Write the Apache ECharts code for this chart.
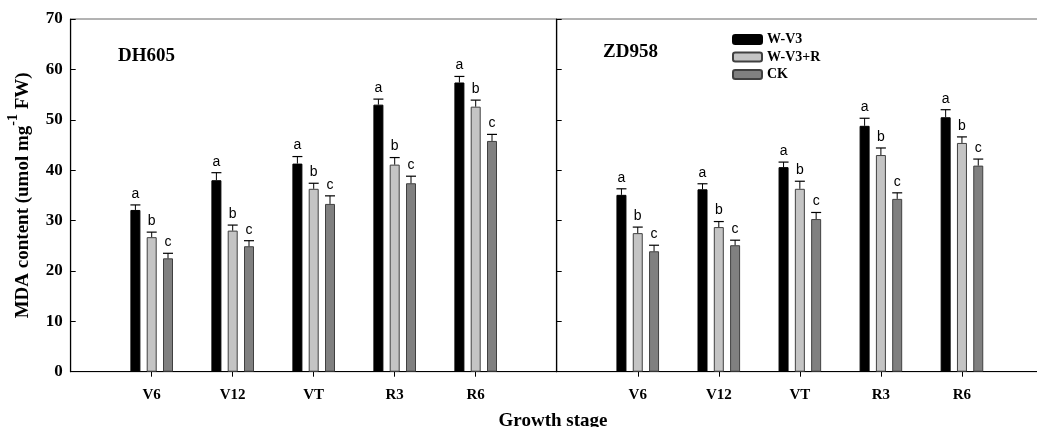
<!DOCTYPE html>
<html>
<head>
<meta charset="utf-8">
<script src="https://cdn.jsdelivr.net/npm/echarts@6/dist/echarts.min.js"></script>
<style>html,body{margin:0;padding:0;background:#fff;overflow:hidden}#c{width:1046px;height:427px}</style>
</head>
<body>
<div id="c"></div>
<script>
// ---- data ----
var stages = ['', 'V6', 'V12', 'VT', 'R3', 'R6', ''];
var treatments = ['W-V3', 'W-V3+R', 'CK'];
var letters = ['a', 'b', 'c'];
var yTicks = [0, 10, 20, 30, 40, 50, 60, 70];

// DH605
var dhWV3 = [32.1, 38.0, 41.3, 53.0, 57.4];
var dhWV3R = [26.7, 28.0, 36.3, 41.1, 52.6];
var dhCK = [22.5, 24.9, 33.3, 37.4, 45.8];
var dhWV3Err = [1.0, 1.5, 1.4, 1.1, 1.2];
var dhWV3RErr = [1.0, 1.1, 1.1, 1.4, 1.3];
var dhCKErr = [1.0, 1.1, 1.6, 1.4, 1.3];

// ZD958
var zdWV3 = [35.1, 36.2, 40.6, 48.8, 50.5];
var zdWV3R = [27.5, 28.7, 36.3, 43.0, 45.4];
var zdCK = [23.9, 25.1, 30.3, 34.3, 40.9];
var zdWV3Err = [1.2, 1.1, 1.0, 1.5, 1.5];
var zdWV3RErr = [1.2, 1.1, 1.5, 1.4, 1.2];
var zdCKErr = [1.2, 1.0, 1.3, 1.2, 1.3];

// ---- styles ----
var serif = '"Liberation Serif","Times New Roman",serif';
var sans = '"Liberation Sans",Arial,sans-serif';
var barW = 10, barGapRatio = 0.63;
var styles = [
  {color: '#000000', borderColor: '#000000', borderWidth: 1},
  {color: '#c4c4c4', borderColor: '#404040', borderWidth: 1},
  {color: '#808080', borderColor: '#404040', borderWidth: 1}
];

var panels = [
  {vals: [dhWV3, dhWV3R, dhCK], errs: [dhWV3Err, dhWV3RErr, dhCKErr]},
  {vals: [zdWV3, zdWV3R, zdCK], errs: [zdWV3Err, zdWV3RErr, zdCKErr]}
];

var series = [];
panels.forEach(function (p, gi) {
  p.vals.forEach(function (vals, k) {
    series.push({
      type: 'bar', name: treatments[k], xAxisIndex: gi, yAxisIndex: gi,
      barWidth: barW, barGap: (barGapRatio * 100) + '%',
      itemStyle: styles[k],
      data: [null].concat(vals).concat([null]),
      z: 2
    });
  });
  p.vals.forEach(function (vals, k) {
    var errs = p.errs[k];
    series.push({
      type: 'custom', name: treatments[k] + '_err', xAxisIndex: gi, yAxisIndex: gi,
      z: 3, silent: true, clip: false,
      data: vals.map(function (v, i) { return [i + 1, v, errs[i]]; }),
      renderItem: function (params, api) {
        var x = api.value(0), v = api.value(1), e = api.value(2);
        var base = api.coord([x, v]);
        var top = api.coord([x, v + e]);
        var cx = base[0] + (k - 1) * barW * (1 + barGapRatio);
        var half = barW / 2;
        return {
          type: 'group',
          children: [
            {type: 'line', shape: {x1: cx, y1: base[1], x2: cx, y2: top[1]}, style: {stroke: '#000', lineWidth: 1}},
            {type: 'line', shape: {x1: cx - half, y1: top[1], x2: cx + half, y2: top[1]}, style: {stroke: '#000', lineWidth: 1.2}},
            {type: 'text', x: cx, y: top[1] - 4, style: {text: letters[k], fill: '#000', font: '14px ' + sans, textAlign: 'center', textVerticalAlign: 'bottom'}}
          ]
        };
      }
    });
  });
});

var grids = [
  {left: 70.7, top: 19, width: 486, bottom: 55.3, show: true, borderColor: '#666', borderWidth: 1},
  {left: 556.7, top: 19, width: 488.4, bottom: 55.3, show: true, borderColor: '#666', borderWidth: 1}
];

function xAxis(gi) {
  return {
    type: 'category', gridIndex: gi, data: stages, boundaryGap: false,
    axisLine: {lineStyle: {color: '#000', width: 1}},
    axisTick: {show: true, length: 5, lineStyle: {color: '#000'}, interval: function (i, v) { return v !== ''; }},
    axisLabel: {show: true, margin: 16, color: '#000', fontFamily: serif, fontWeight: 'bold', fontSize: 15, interval: 0},
    splitLine: {show: false}
  };
}
function yAxis(gi) {
  var a = {
    type: 'value', gridIndex: gi, min: yTicks[0], max: yTicks[yTicks.length - 1], interval: yTicks[1] - yTicks[0],
    axisLine: {show: true, lineStyle: {color: '#000', width: 1.2}},
    axisTick: {show: true, inside: true, length: 5, lineStyle: {color: '#000'}},
    axisLabel: {show: gi === 0, margin: 8, color: '#000', fontFamily: serif, fontWeight: 'bold', fontSize: 17},
    splitLine: {show: false}
  };
  if (gi === 0) {
    a.name = '{a|MDA content (umol mg}{s|-1}{a| FW)}';
    a.nameLocation = 'middle';
    a.nameGap = 38;
    a.nameRotate = 90;
    a.nameTextStyle = {
      rich: {
        a: {fontFamily: serif, fontWeight: 'bold', fontSize: 19, color: '#000', lineHeight: 26, verticalAlign: 'bottom'},
        s: {fontFamily: serif, fontWeight: 'bold', fontSize: 14, color: '#000', lineHeight: 26, verticalAlign: 'top'}
      }
    };
  }
  return a;
}

var chart = echarts.init(document.getElementById('c'), null, {renderer: 'canvas'});
chart.setOption({
  animation: false,
  backgroundColor: '#fff',
  grid: grids,
  xAxis: [xAxis(0), xAxis(1)],
  yAxis: [yAxis(0), yAxis(1)],
  legend: {
    data: treatments, orient: 'vertical', left: 727, top: 27.5,
    itemWidth: 29, itemHeight: 9, itemGap: 3.5,
    textStyle: {fontFamily: serif, fontWeight: 'bold', fontSize: 14, color: '#000'},
    selectedMode: false
  },
  graphic: [
    {type: 'text', left: 118, top: 47, style: {text: 'DH605', font: 'bold 19px ' + serif, fill: '#000'}},
    {type: 'text', left: 603, top: 43, style: {text: 'ZD958', font: 'bold 19px ' + serif, fill: '#000'}},
    {type: 'text', x: 553, y: 421, style: {text: 'Growth stage', font: 'bold 19px ' + serif, fill: '#000', textAlign: 'center', textVerticalAlign: 'middle'}}
  ],
  series: series
});
</script>
</body>
</html>
